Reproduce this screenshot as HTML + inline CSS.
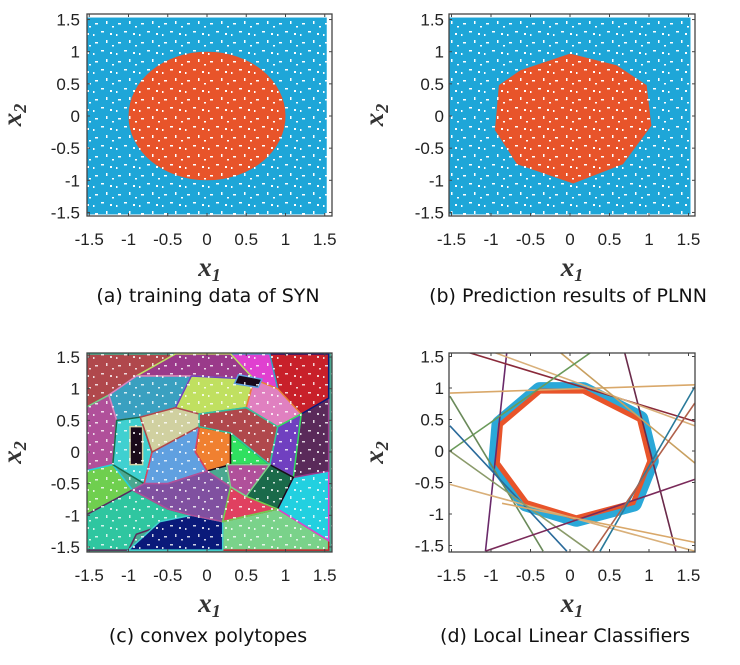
<!DOCTYPE html>
<html><head><meta charset="utf-8"><style>
body{margin:0;background:#fff;width:740px;height:665px;overflow:hidden}
svg{position:absolute;left:0;top:0}
.tk{font-family:"Liberation Sans",sans-serif;font-size:17px;fill:#222}
.ax{font-family:"Liberation Serif",serif;font-size:27px;font-weight:bold;font-style:italic;fill:#333}
.cap{font-family:"DejaVu Sans","Liberation Sans",sans-serif;font-size:19px;fill:#111}
</style></head><body>
<svg id="fig" width="740" height="665" viewBox="0 0 740 665">
<defs>
<pattern id="speck" width="23" height="19" patternUnits="userSpaceOnUse">
<rect x="3" y="4" width="3" height="1.5" fill="#fff"/><rect x="14" y="2" width="1.5" height="3" fill="#fff"/>
<rect x="9" y="12" width="3" height="1.5" fill="#fff"/><rect x="18" y="14" width="2" height="2" fill="#fff"/>
<rect x="1" y="15" width="1.5" height="2" fill="#fff"/><rect x="20" y="7" width="2" height="1.5" fill="#fff"/>
</pattern>
</defs>
</svg>
<script>
const ticks=[-1.5,-1,-0.5,0,0.5,1,1.5];
const tickLabels=["-1.5","-1","-0.5","0","0.5","1","1.5"];
const circleRadius=[1];
const predPoly=[[-0.9,0.48],[-0.95,-0.22],[-0.67,-0.75],[0.04,-1.05],[0.67,-0.75],[1.03,-0.15],[0.97,0.48],[0.59,0.79],[0,0.97],[-0.63,0.71]];
const ringPoly=[[-0.88,0.42],[-0.92,-0.19],[-0.55,-0.82],[0.08,-1.06],[0.8,-0.82],[1.01,-0.16],[0.88,0.5],[0.17,0.95],[-0.38,0.95]];
const lineStarts=[[-0.8,1.57],[0.69,1.57],[-1.52,0.92],[-1.3,1.57],[-0.97,1.57],[-0.13,1.57],[-1.52,0],[-1.52,0.87],[-1.52,0.4],[-1.52,-0.53],[-1.52,0],[-1.07,-1.59],[0.38,-1.59],[0.29,-1.59],[-0.86,-0.83]];
const lineEnds=[[-1.07,-1.59],[1.34,-1.59],[1.58,1.05],[1.58,0.47],[1.58,0.4],[1.58,-0.19],[0.27,1.57],[-0.34,-1.59],[-0.04,-1.59],[1.58,-1.59],[0.25,-1.59],[1.58,-0.45],[1.58,1.02],[1.58,0.76],[1.58,-1.45]];
const lineColors=["#6a2a6a","#6a2a4a","#d9a86a","#8a2a3a","#d9b07a","#c8a060","#6a9a5a","#6a8a5a","#2a6a9a","#d9b07a","#8a9a6a","#7a2a5a","#2a7a9a","#b0604a","#d9a86a"];
const polyColors=["#b0484c","#b0509a","#6fcf4f","#2fc6a0","#7ad28a","#22d0e0","#5a2a5a","#c8202a","#e040d0","#9a3a8a","#0a1a7a","#3aa0c0","#c0e060","#40d0d0","#e080c0","#7040c0","#1a6a4a","#f08030","#30e060","#1a0a1a","#1a0a1a","#2a0a0a","#60a0e0","#d0d0a0","#8050a0","#e04060"];
const polys=[
[[-1.55,1.55],[-0.4,1.55],[-0.9,1.2],[-1.25,0.9],[-1.55,0.7]],
[[-1.55,0.7],[-1.25,0.9],[-1.15,0.5],[-1.2,-0.2],[-1.55,-0.3]],
[[-1.55,-0.3],[-1.2,-0.2],[-0.95,-0.6],[-1.55,-1.0]],
[[-1.55,-1.0],[-0.95,-0.6],[-0.5,-0.9],[-0.2,-1.0],[-0.9,-1.3],[-1.0,-1.55],[-1.55,-1.55]],
[[0.2,-1.55],[0.2,-1.1],[0.9,-0.9],[1.55,-1.4],[1.55,-1.55]],
[[0.9,-0.9],[1.55,-1.4],[1.55,-0.3],[1.1,-0.4]],
[[1.55,-0.3],[1.1,-0.4],[1.2,0.6],[1.55,0.85]],
[[0.8,1.55],[1.55,1.55],[1.55,0.85],[1.2,0.6],[0.9,1.0]],
[[0.3,1.55],[0.8,1.55],[0.9,1.0],[0.6,1.15]],
[[-0.4,1.55],[0.3,1.55],[0.6,1.15],[-0.2,1.2],[-0.9,1.2]],
[[-1.0,-1.55],[-0.6,-1.1],[-0.2,-1.0],[0.2,-1.1],[0.2,-1.55]],
[[-1.25,0.9],[-0.9,1.2],[-0.2,1.2],[-0.4,0.7],[-0.85,0.55],[-1.15,0.5]],
[[-0.2,1.2],[0.6,1.15],[0.5,0.7],[-0.1,0.6],[-0.4,0.7]],
[[-1.15,0.5],[-0.85,0.55],[-0.7,0.0],[-0.8,-0.5],[-1.2,-0.2]],
[[0.6,1.15],[0.9,1.0],[1.2,0.6],[0.9,0.4],[0.5,0.7]],
[[0.9,0.4],[1.2,0.6],[1.1,-0.4],[0.8,-0.2]],
[[0.8,-0.2],[1.1,-0.4],[0.9,-0.9],[0.5,-0.7]],
[[-0.1,0.4],[0.3,0.3],[0.3,-0.2],[0,-0.3],[-0.15,0]],
[[0.3,0.3],[0.8,-0.2],[0.5,-0.2],[0.3,-0.2]],
[[0.4,1.22],[0.7,1.15],[0.65,1.02],[0.35,1.08]],
[[-0.98,0.4],[-0.82,0.4],[-0.82,-0.2],[-0.98,-0.2]],
[[0.25,-0.2],[0.6,-0.25],[0.55,-0.6],[0.3,-0.55]],
[[-0.7,0.0],[-0.1,0.4],[-0.15,0],[0,-0.3],[-0.5,-0.5],[-0.8,-0.5]],
[[-0.4,0.7],[-0.1,0.6],[-0.1,0.4],[-0.7,0.0],[-0.85,0.55]],
[[-0.8,-0.5],[-0.5,-0.5],[0,-0.3],[0.3,-0.55],[0.2,-1.1],[-0.2,-1.0],[-0.5,-0.9],[-0.95,-0.6]],
[[0.3,-0.55],[0.5,-0.7],[0.9,-0.9],[0.2,-1.1]],
[[0.5,0.7],[0.9,0.4],[0.8,-0.2],[0.3,0.3],[-0.1,0.4],[-0.1,0.6]],
[[0.3,-0.2],[0.5,-0.2],[0.8,-0.2],[0.5,-0.7],[0.3,-0.55],[0.25,-0.2]]
];
const NS="http://www.w3.org/2000/svg";
const svg=document.getElementById('fig');
function mk(tag,attrs,parent){const e=document.createElementNS(NS,tag);for(const k in attrs)e.setAttribute(k,attrs[k]);(parent||svg).appendChild(e);return e;}
const panels=[
 {id:"a",x0:207,xs:78.5,y0:116,ys:64.3,L:87,R:332,T:14,B:216,cap:"(a) training data of SYN",cx:208,capy:302,lx:80},
 {id:"b",x0:570,xs:79,y0:116,ys:64.3,L:449,R:695,T:14,B:216,cap:"(b) Prediction results of PLNN",cx:568,capy:302,lx:444},
 {id:"c",x0:207,xs:78.5,y0:452,ys:63.3,L:87,R:332,T:353,B:552,cap:"(c) convex polytopes",cx:208,capy:642,lx:80},
 {id:"d",x0:570,xs:79,y0:451,ys:63,L:449,R:695,T:353,B:552,cap:"(d) Local Linear Classifiers",cx:565,capy:642,lx:444}
];
panels.forEach(p=>{
 const X=v=>p.x0+v*p.xs, Y=v=>p.y0-v*p.ys;
 const g=mk('g',{});
 
 
 const clipId='clip'+p.id;
 const cp=mk('clipPath',{id:clipId},g);mk('rect',{x:p.L,y:p.T,width:p.R-p.L,height:p.B-p.T},cp);
 const plot=mk('g',{'clip-path':'url(#'+clipId+')'},g);
 
 
 const pts=a=>a.map(q=>X(q[0])+','+Y(q[1])).join(' ');
 if(p.id==='a'||p.id==='b'){
  const bg=mk('rect',{x:X(-1.5)-2,y:Y(1.5)-2,width:X(1.5)-X(-1.5)+4,height:Y(-1.5)-Y(1.5)+4,fill:'#1ea6d8'},plot);
  
  
  let r;
  if(p.id==='a'){r=mk('ellipse',{cx:X(0),cy:Y(0),rx:circleRadius[0]*p.xs,ry:circleRadius[0]*p.ys,fill:'#e8542a'},plot);}
  else{r=mk('polygon',{points:pts(predPoly),fill:'#e8542a'},plot);}
  
  
  mk('rect',{x:p.L,y:p.T,width:p.R-p.L,height:p.B-p.T,fill:'url(#speck)'},plot);
 }else if(p.id==='c'){
  mk('rect',{x:p.L,y:p.T,width:p.R-p.L,height:p.B-p.T,fill:'#4aa890'},plot);
  polys.forEach((pl,i)=>{const e=mk('polygon',{points:pts(pl),fill:polyColors[i%polyColors.length],stroke:polyColors[(i+3)%polyColors.length],'stroke-width':1.5},plot);
   
   });
  mk('rect',{x:p.L,y:p.T,width:p.R-p.L,height:p.B-p.T,fill:'url(#speck)',opacity:0.8},plot);
 }else{
  const ring=mk('polygon',{points:pts(ringPoly),fill:'none',stroke:'#2aa8d8','stroke-width':18,'stroke-linejoin':'round'},plot);
  
  
  mk('polygon',{points:pts(ringPoly),fill:'#fff',stroke:'#e8542a','stroke-width':5},plot);
  lineStarts.forEach((s,i)=>{const e=mk('line',{x1:X(s[0]),y1:Y(s[1]),x2:X(lineEnds[i][0]),y2:Y(lineEnds[i][1]),stroke:lineColors[i],'stroke-width':1.6},plot);
   
   });
 }
 const fr=mk('rect',{x:p.L,y:p.T,width:p.R-p.L,height:p.B-p.T,fill:'none',stroke:'#444','stroke-width':1.3},g);
 
 
 ticks.forEach((t,i)=>{
  mk('line',{x1:X(t),x2:X(t),y1:p.B,y2:p.B-3,stroke:'#444'},g);
  mk('line',{x1:X(t),x2:X(t),y1:p.T,y2:p.T+3,stroke:'#444'},g);
  mk('line',{x1:p.L,x2:p.L+3,y1:Y(t),y2:Y(t),stroke:'#444'},g);
  mk('line',{x1:p.R,x2:p.R-3,y1:Y(t),y2:Y(t),stroke:'#444'},g);
  const tx=mk('text',{x:X(t),y:p.B+29,'text-anchor':'middle',class:'tk'},g);tx.textContent=tickLabels[i];
  
  
  const ty=mk('text',{x:p.lx,y:Y(t)+6,'text-anchor':'end',class:'tk'},g);ty.textContent=tickLabels[i];
  
  
 });
 const xl=mk('text',{x:(p.L+p.R)/2,y:p.B+60,'text-anchor':'middle',class:'ax'},g);
 xl.innerHTML='x<tspan font-size="18" dy="5">1</tspan>';
 
 
 const yx=p.L-66, yy=(p.T+p.B)/2;
 const yl=mk('text',{x:yx,y:yy,'text-anchor':'middle',class:'ax',transform:'rotate(-90 '+yx+' '+yy+')'},g);
 yl.innerHTML='x<tspan font-size="18" dy="5">2</tspan>';
 
 
 const cp2=mk('text',{x:p.cx,y:p.capy,'text-anchor':'middle',class:'cap'},g);cp2.textContent=p.cap;
 
 
});
</script>
</body></html>
